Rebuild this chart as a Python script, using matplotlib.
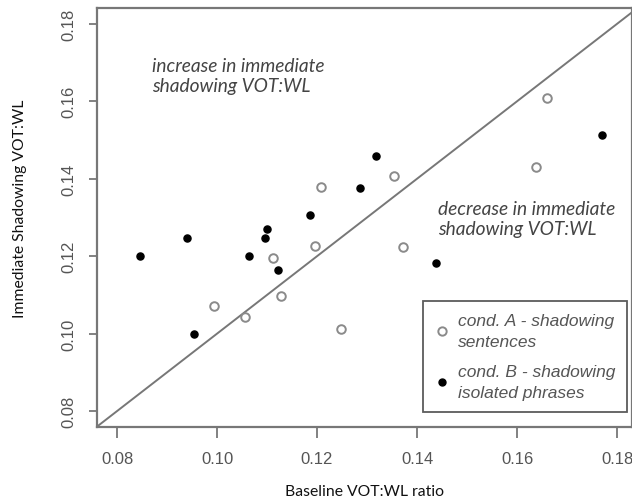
import matplotlib
matplotlib.use("Agg")
import matplotlib.pyplot as plt
from matplotlib.lines import Line2D

# cond. A - shadowing sentences (open circles)
a_base = [0.0994, 0.1056, 0.1112, 0.1128, 0.1196, 0.1208, 0.1248, 0.1354, 0.1372, 0.1638, 0.1660]
a_imm = [0.1071, 0.1043, 0.1195, 0.1097, 0.1226, 0.1380, 0.1012, 0.1407, 0.1223, 0.1430, 0.1608]

# cond. B - shadowing isolated phrases (filled dots)
b_base = [0.0846, 0.0940, 0.0954, 0.1064, 0.1096, 0.1100, 0.1122, 0.1186, 0.1286, 0.1318, 0.1438, 0.1770]
b_imm = [0.1200, 0.1246, 0.0999, 0.1200, 0.1246, 0.1270, 0.1164, 0.1306, 0.1375, 0.1460, 0.1182, 0.1512]

ticks = [0.08, 0.10, 0.12, 0.14, 0.16, 0.18]
tick_labels = ["0.08", "0.10", "0.12", "0.14", "0.16", "0.18"]
legend_labels = ["cond. A - shadowing\nsentences", "cond. B - shadowing\nisolated phrases"]

grey = "#777777"
txt = "#444444"

fig = plt.figure(figsize=(6.32, 5.02), dpi=100)
ax = fig.add_axes([97 / 632, 1 - 428 / 502, 535 / 632, 419 / 502])

ax.set_xlim(0.076, 0.183)
ax.set_ylim(0.0759, 0.1841)

ax.axline((0.08, 0.08), slope=1, color=grey, lw=1.4, zorder=1)
ax.scatter(a_base, a_imm, s=38, facecolors="white", edgecolors="#8a8a8a", linewidths=1.4, zorder=3)
ax.scatter(b_base, b_imm, s=26, color="black", zorder=3)

for s in ax.spines.values():
    s.set_color(grey)
    s.set_linewidth(1.6)

ax.set_xticks(ticks)
ax.set_xticklabels(tick_labels)
ax.set_yticks(ticks)
ax.set_yticklabels(tick_labels, rotation=90, va="center")
ax.tick_params(axis="x", length=8, width=1.3, color=grey, labelsize=12, labelcolor="#555555", pad=9)
ax.tick_params(axis="y", length=6, width=1.3, color=grey, labelsize=12, labelcolor="#555555", pad=9)
for lab in ax.get_xticklabels() + ax.get_yticklabels():
    lab.set_family("Liberation Sans")

ax.set_xlabel("Baseline VOT:WL ratio", family="Lato", fontsize=11.3, color="#111111")
ax.set_ylabel("Immediate Shadowing VOT:WL", family="Lato", fontsize=11.3, color="#111111")
ax.xaxis.set_label_coords(0.5, -0.137)
ax.yaxis.set_label_coords(-0.13, 0.523)

ax.text(0.087, 0.1667, "increase in immediate\nshadowing VOT:WL", family="Lato", style="italic",
        fontsize=13.8, color=txt, va="center", linespacing=1.25)
ax.text(0.1442, 0.1297, "decrease in immediate\nshadowing VOT:WL", family="Lato", style="italic",
        fontsize=13.8, color=txt, va="center", linespacing=1.25)

handles = [
    Line2D([], [], ls="none", marker="o", ms=6, mfc="white", mec="#8a8a8a", mew=1.4),
    Line2D([], [], ls="none", marker="o", ms=5, color="black"),
]
leg = ax.legend(handles, legend_labels, loc="lower right", bbox_to_anchor=(0.991, 0.036),
                prop={"family": "Liberation Sans", "style": "italic", "size": 12.5},
                frameon=True, fancybox=False, edgecolor="#333333", handlelength=0.8,
                handletextpad=0.5, borderpad=0.7, labelspacing=0.9, borderaxespad=0)
leg.get_frame().set_linewidth(1.3)
for t in leg.get_texts():
    t.set_color("#555555")
    t.set_linespacing(1.45)

fig.savefig("out.png", dpi=100)
